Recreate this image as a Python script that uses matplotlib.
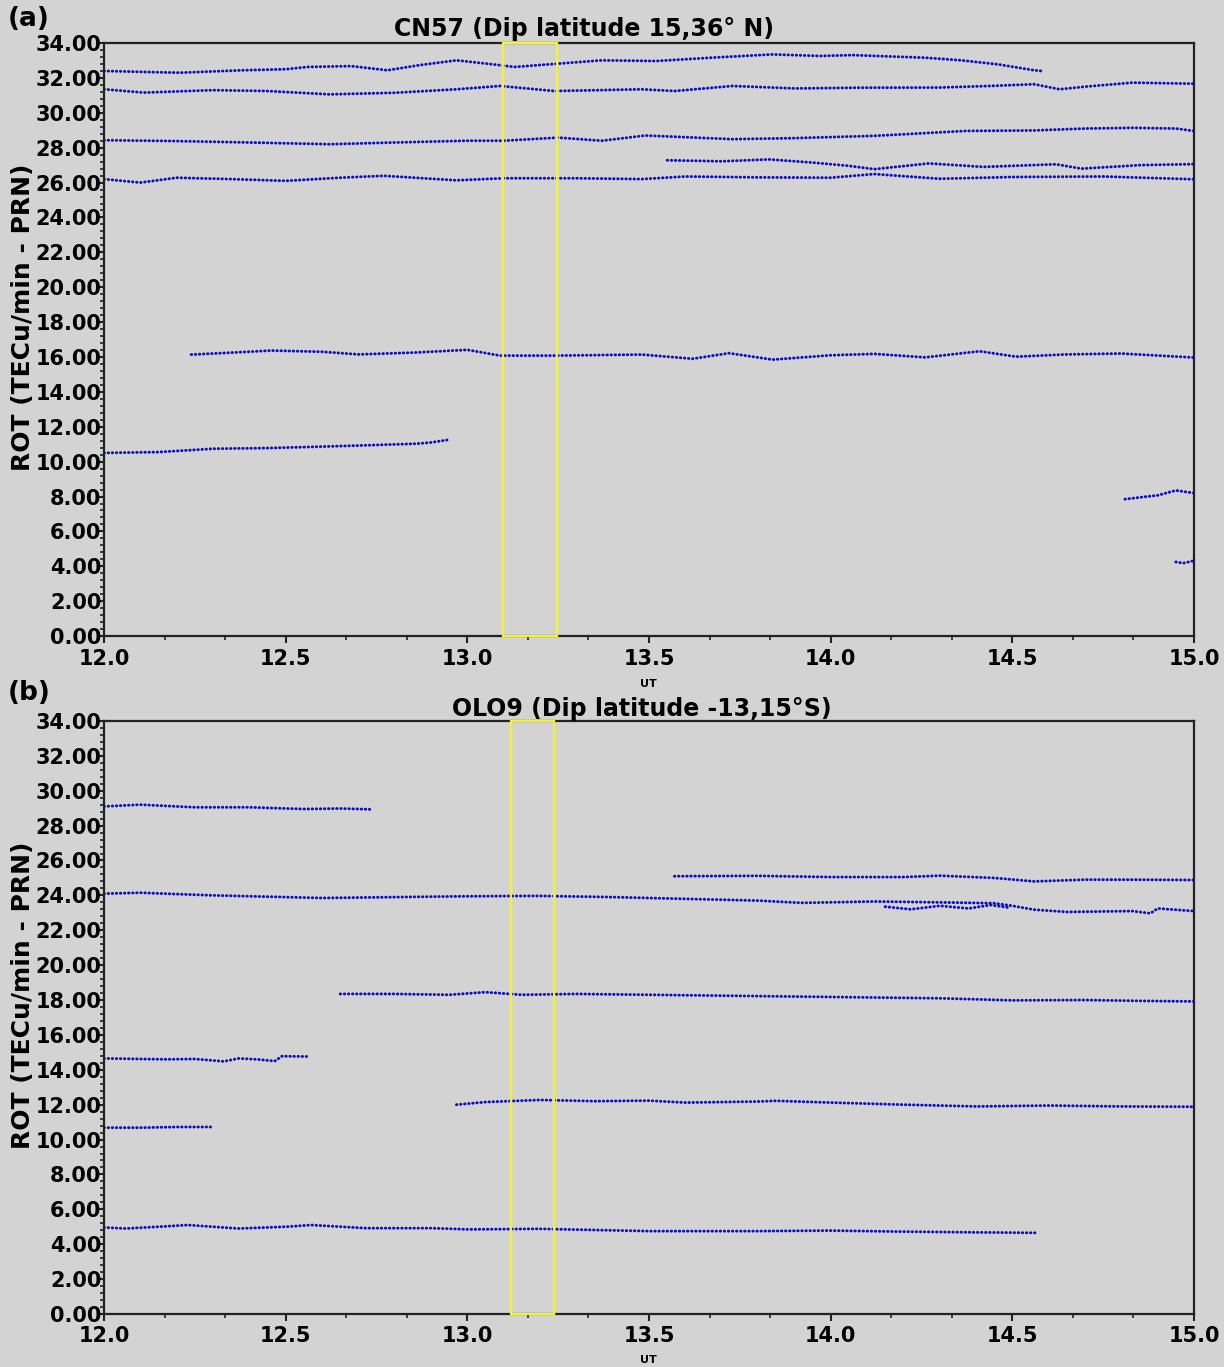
import matplotlib
matplotlib.use("Agg")
import matplotlib.pyplot as plt
from matplotlib.patches import Rectangle
from matplotlib.ticker import MultipleLocator, FormatStrFormatter

# ---- panel (a): CN57, tracks (UT hours, ROT offset) ----
a1_t = [12.00, 12.10, 12.21, 12.38, 12.50, 12.56, 12.68, 12.78, 12.87, 12.97, 13.07, 13.13,
        13.25, 13.37, 13.52, 13.67, 13.84, 13.97, 14.06, 14.26, 14.36, 14.46, 14.56, 14.58]
a1_v = [32.40, 32.35, 32.30, 32.44, 32.50, 32.63, 32.68, 32.44, 32.74, 33.01, 32.78, 32.63,
        32.82, 33.01, 32.97, 33.16, 33.35, 33.26, 33.31, 33.16, 33.01, 32.78, 32.44, 32.40]
a2_t = [12.00, 12.11, 12.30, 12.45, 12.62, 12.80, 12.97, 13.09, 13.24, 13.48, 13.57, 13.73,
        13.90, 14.08, 14.30, 14.45, 14.56, 14.63, 14.70, 14.83, 15.00]
a2_v = [31.35, 31.16, 31.30, 31.25, 31.06, 31.15, 31.35, 31.54, 31.25, 31.35, 31.25, 31.54,
        31.40, 31.44, 31.45, 31.55, 31.64, 31.35, 31.50, 31.73, 31.67]
a3_t = [12.00, 12.20, 12.40, 12.62, 12.80, 13.00, 13.10, 13.25, 13.37, 13.49, 13.73, 13.90,
        14.12, 14.37, 14.56, 14.70, 14.83, 14.95, 15.00]
a3_v = [28.43, 28.38, 28.30, 28.20, 28.30, 28.40, 28.40, 28.58, 28.40, 28.70, 28.49, 28.55,
        28.68, 28.96, 28.99, 29.10, 29.14, 29.10, 28.96]
a4_t = [12.00, 12.10, 12.20, 12.35, 12.50, 12.65, 12.77, 12.97, 13.10, 13.30, 13.48, 13.60,
        13.80, 14.00, 14.12, 14.30, 14.50, 14.75, 15.00]
a4_v = [26.20, 26.00, 26.28, 26.20, 26.10, 26.28, 26.39, 26.13, 26.25, 26.25, 26.20, 26.35,
        26.30, 26.28, 26.49, 26.22, 26.32, 26.35, 26.19]
a5_t = [13.55, 13.70, 13.83, 13.95, 14.05, 14.12, 14.27, 14.42, 14.62, 14.69, 14.85, 15.00]
a5_v = [27.28, 27.22, 27.33, 27.15, 26.96, 26.77, 27.10, 26.90, 27.05, 26.80, 27.00, 27.06]
a6_t = [12.24, 12.35, 12.46, 12.60, 12.70, 12.85, 13.00, 13.09, 13.24, 13.48, 13.62, 13.72,
        13.84, 14.00, 14.12, 14.26, 14.41, 14.51, 14.65, 14.80, 15.00]
a6_v = [16.14, 16.25, 16.37, 16.30, 16.15, 16.25, 16.41, 16.08, 16.08, 16.14, 15.90, 16.22,
        15.85, 16.10, 16.18, 15.98, 16.33, 16.02, 16.15, 16.20, 15.97]
a7_t = [12.00, 12.15, 12.30, 12.45, 12.56, 12.71, 12.86, 12.90, 12.95]
a7_v = [10.50, 10.55, 10.74, 10.78, 10.84, 10.93, 11.03, 11.10, 11.26]
a8_t = [14.81, 14.85, 14.90, 14.95, 15.00]
a8_v = [7.85, 7.95, 8.07, 8.35, 8.20]
a9_t = [14.95, 14.97, 15.00]
a9_v = [4.25, 4.18, 4.32]

# ---- panel (b): OLO9 ----
b1_t = [12.00, 12.10, 12.25, 12.40, 12.55, 12.65, 12.74]
b1_v = [29.10, 29.20, 29.05, 29.05, 28.95, 28.98, 28.93]
b2_t = [12.00, 12.10, 12.30, 12.50, 12.60, 12.80, 13.00, 13.20, 13.40, 13.60, 13.80, 13.92,
        14.12, 14.30, 14.45, 14.50, 14.56, 14.65, 14.83, 14.88, 14.90, 15.00]
b2_v = [24.10, 24.15, 24.00, 23.90, 23.85, 23.90, 23.95, 23.97, 23.90, 23.80, 23.70, 23.57,
        23.65, 23.60, 23.55, 23.40, 23.18, 23.05, 23.10, 22.97, 23.25, 23.10]
b2x_t = [14.15, 14.22, 14.30, 14.38, 14.44, 14.49]
b2x_v = [23.35, 23.20, 23.40, 23.25, 23.45, 23.30]
b3_t = [13.57, 13.80, 14.00, 14.20, 14.30, 14.45, 14.56, 14.70, 14.83, 15.00]
b3_v = [25.10, 25.12, 25.05, 25.05, 25.13, 25.00, 24.80, 24.90, 24.90, 24.88]
b4_t = [12.65, 12.80, 12.95, 13.05, 13.15, 13.30, 13.50, 13.70, 13.90, 14.10, 14.30, 14.50,
        14.70, 14.85, 15.00]
b4_v = [18.35, 18.35, 18.30, 18.45, 18.30, 18.35, 18.30, 18.25, 18.20, 18.15, 18.10, 17.98,
        18.00, 17.95, 17.92]
b5_t = [12.00, 12.10, 12.17, 12.25, 12.33, 12.37, 12.42, 12.47, 12.49, 12.56]
b5_v = [14.65, 14.62, 14.60, 14.62, 14.48, 14.65, 14.60, 14.50, 14.78, 14.76]
b6_t = [12.97, 13.05, 13.20, 13.35, 13.50, 13.60, 13.80, 13.85, 14.00, 14.20, 14.40, 14.60,
        14.80, 15.00]
b6_v = [12.00, 12.15, 12.27, 12.20, 12.23, 12.12, 12.18, 12.22, 12.12, 12.00, 11.90, 11.95,
        11.90, 11.88]
b7_t = [12.00, 12.10, 12.20, 12.30]
b7_v = [10.68, 10.68, 10.72, 10.72]
b8_t = [12.00, 12.06, 12.15, 12.23, 12.37, 12.50, 12.57, 12.72, 12.90, 13.00, 13.20, 13.50,
        13.80, 14.00, 14.20, 14.40, 14.57]
b8_v = [4.96, 4.90, 5.00, 5.10, 4.90, 5.00, 5.10, 4.92, 4.92, 4.85, 4.88, 4.75, 4.75, 4.78,
        4.72, 4.68, 4.65]

tracks_a = [(a1_t, a1_v), (a2_t, a2_v), (a3_t, a3_v), (a4_t, a4_v), (a5_t, a5_v),
            (a6_t, a6_v), (a7_t, a7_v), (a8_t, a8_v), (a9_t, a9_v)]
tracks_b = [(b1_t, b1_v), (b2_t, b2_v), (b2x_t, b2x_v), (b3_t, b3_v), (b4_t, b4_v),
            (b5_t, b5_v), (b6_t, b6_v), (b7_t, b7_v), (b8_t, b8_v)]

# highlighted window (UT)
box_a = (13.098, 13.247)
box_b = (13.120, 13.239)

BG = "#d3d3d3"
DOT = "#0c0cc8"

fig = plt.figure(figsize=(12.24, 13.67), dpi=100, facecolor=BG)


def setup(ax, tracks, box):
    ax.set_facecolor(BG)
    for t, v in tracks:
        ax.plot(t, v, color=DOT, lw=2.1, ls=(0, (0.15, 1.25)),
                dash_capstyle="round", solid_capstyle="round")
    ax.add_patch(Rectangle((box[0], 0), box[1] - box[0], 34, fill=False,
                           edgecolor="#f2f230", lw=1.6, zorder=5, clip_on=False))
    ax.set_xlim(12.0, 15.0)
    ax.set_ylim(0, 34)
    ax.xaxis.set_major_locator(MultipleLocator(0.5))
    ax.xaxis.set_minor_locator(MultipleLocator(1 / 6))
    ax.yaxis.set_major_locator(MultipleLocator(2))
    ax.yaxis.set_minor_locator(MultipleLocator(0.4))
    ax.xaxis.set_major_formatter(FormatStrFormatter("%.1f"))
    ax.yaxis.set_major_formatter(FormatStrFormatter("%.2f"))
    ax.tick_params(axis="both", which="major", labelsize=15, length=5, width=1.5,
                   color="#222222")
    ax.tick_params(axis="y", which="major", pad=-3)
    ax.tick_params(axis="x", which="major", pad=4)
    ax.tick_params(axis="both", which="minor", length=3, width=1.2, color="#222222")
    for lab in ax.get_xticklabels() + ax.get_yticklabels():
        lab.set_fontweight("bold")
    for s in ax.spines.values():
        s.set_linewidth(1.6)
        s.set_color("#222222")


ax1 = fig.add_axes([0.085, 0.5347, 0.8905, 0.4338])
setup(ax1, tracks_a, box_a)
ax2 = fig.add_axes([0.085, 0.0388, 0.8905, 0.4338])
setup(ax2, tracks_b, box_b)

fig.text(0.477, 0.979, "CN57 (Dip latitude 15,36° N)", ha="center", va="center",
         fontsize=17, fontweight="bold")
fig.text(0.524, 0.481, "OLO9 (Dip latitude -13,15°S)", ha="center", va="center",
         fontsize=17, fontweight="bold")
fig.text(0.006, 0.986, "(a)", ha="left", va="center", fontsize=19, fontweight="bold")
fig.text(0.006, 0.493, "(b)", ha="left", va="center", fontsize=19, fontweight="bold")
fig.text(0.019, 0.768, "ROT (TECu/min - PRN)", rotation=90, ha="center", va="center",
         fontsize=18, fontweight="bold")
fig.text(0.019, 0.272, "ROT (TECu/min - PRN)", rotation=90, ha="center", va="center",
         fontsize=18, fontweight="bold")
fig.text(0.530, 0.4995, "UT", ha="center", va="center", fontsize=8, fontweight="bold")
fig.text(0.530, 0.005, "UT", ha="center", va="center", fontsize=8, fontweight="bold")

fig.savefig("out.png", dpi=100, facecolor=BG)
